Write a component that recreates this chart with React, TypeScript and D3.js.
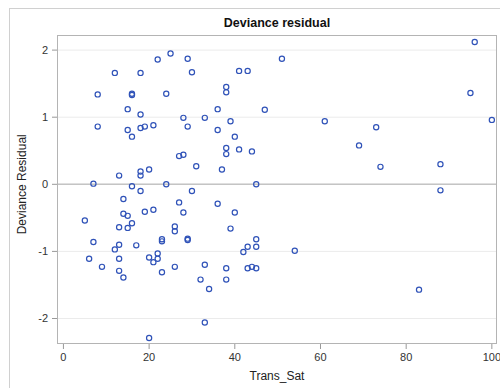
import * as d3 from "d3";

// Trans_Sat vs deviance residual
const transSat = [
  25, 22, 29, 12, 18, 30, 8, 16, 16, 24, 15, 18, 28, 8, 15, 18, 19, 21, 29, 16,
  27, 28, 31, 20, 18, 18, 13, 7, 16, 24, 18, 30, 14, 27, 14, 15, 19, 21, 28, 5,
  16, 13, 15, 26, 26, 23, 23, 29, 29, 7, 13, 17, 12, 22, 20, 22, 21, 6, 13, 26,
  9, 13, 14, 23, 20, 51, 41, 43, 38, 38, 36, 47, 33, 39, 61, 36, 40, 38, 38, 41,
  44, 37, 45, 36, 40, 39, 45, 43, 45, 42, 54, 33, 38, 43, 44, 45, 32, 38, 34, 33,
  96, 95, 100, 73, 69, 74, 88, 88, 83,
];
const devResid = [
  1.95, 1.86, 1.87, 1.66, 1.66, 1.67, 1.34, 1.35, 1.33, 1.35, 1.12, 1.04, 0.99, 0.86, 0.81, 0.84, 0.86, 0.88, 0.86, 0.71,
  0.42, 0.44, 0.27, 0.22, 0.19, 0.13, 0.13, 0.01, -0.03, 0.0, -0.1, -0.1, -0.22, -0.27, -0.44, -0.47, -0.41, -0.38, -0.42, -0.54,
  -0.58, -0.64, -0.65, -0.63, -0.7, -0.82, -0.85, -0.81, -0.83, -0.86, -0.9, -0.91, -0.97, -1.03, -1.09, -1.11, -1.16, -1.11, -1.11, -1.23,
  -1.23, -1.29, -1.39, -1.31, -2.29, 1.87, 1.69, 1.69, 1.45, 1.37, 1.12, 1.11, 0.99, 0.94, 0.94, 0.81, 0.71, 0.54, 0.45, 0.52,
  0.49, 0.22, 0.0, -0.29, -0.42, -0.66, -0.82, -0.93, -0.93, -1.01, -0.99, -1.2, -1.25, -1.25, -1.23, -1.25, -1.42, -1.42, -1.56, -2.06,
  2.12, 1.36, 0.96, 0.85, 0.58, 0.26, 0.3, -0.09, -1.57,
];
const xTicks = [0, 20, 40, 60, 80, 100];
const yTicks = [-2, -1, 0, 1, 2];

const W = 500;
const H = 388;
const left = 57;
const right = 497;
const top = 35;
const bottom = 344;

export default function App() {
  const x = d3.scaleLinear().domain([-1.5, 101.2]).range([left, right]);
  const y = d3.scaleLinear().domain([-2.38, 2.225]).range([bottom, top]);
  const font = "'Liberation Sans', Arial, sans-serif";

  return (
    <div style={{ position: "fixed", left: 0, top: 0 }}>
      <svg width={W} height={H} style={{ display: "block", background: "#fff" }}>
        <rect x={9.5} y={8.5} width={600} height={600} fill="none" stroke="#d0d0d0" />
        <text x={(left + right) / 2} y={27} textAnchor="middle" fontFamily={font}
          fontSize={12.5} fontWeight="bold" fill="#111">Deviance residual</text>

        {/* grid */}
        {yTicks.map((t) => (
          <line key={"g" + t} x1={left} x2={right} y1={y(t)} y2={y(t)}
            stroke="#ebebeb" strokeWidth={1} />
        ))}
        <line x1={left} x2={right} y1={y(0)} y2={y(0)} stroke="#c4c4c4" strokeWidth={1.5} />

        {/* y axis */}
        {yTicks.map((t) => (
          <g key={"y" + t}>
            <line x1={left - 5} x2={left} y1={y(t)} y2={y(t)} stroke="#999" />
            <text x={left - 9} y={y(t)} dy="0.35em" textAnchor="end" fontFamily={font}
              fontSize={11} fill="#333">{t}</text>
          </g>
        ))}
        {/* x axis */}
        {xTicks.map((t) => (
          <g key={"x" + t}>
            <line x1={x(t)} x2={x(t)} y1={bottom} y2={bottom + 5} stroke="#999" />
            <text x={x(t)} y={bottom + 17} textAnchor="middle" fontFamily={font}
              fontSize={11} fill="#333">{t}</text>
          </g>
        ))}

        <rect x={left + 0.5} y={top + 0.5} width={right - left - 1} height={bottom - top - 1}
          fill="none" stroke="#b4b4b4" />

        <text x={(left + right) / 2} y={380} textAnchor="middle" fontFamily={font}
          fontSize={12} fill="#222">Trans_Sat</text>
        <text transform={`translate(26, ${y(0)}) rotate(-90)`} textAnchor="middle"
          fontFamily={font} fontSize={12} fill="#222">Deviance Residual</text>

        {transSat.map((v, i) => (
          <circle key={i} cx={x(v)} cy={y(devResid[i])} r={2.6}
            fill="none" stroke="#2f52b8" strokeWidth={1.2} />
        ))}
      </svg>
    </div>
  );
}
